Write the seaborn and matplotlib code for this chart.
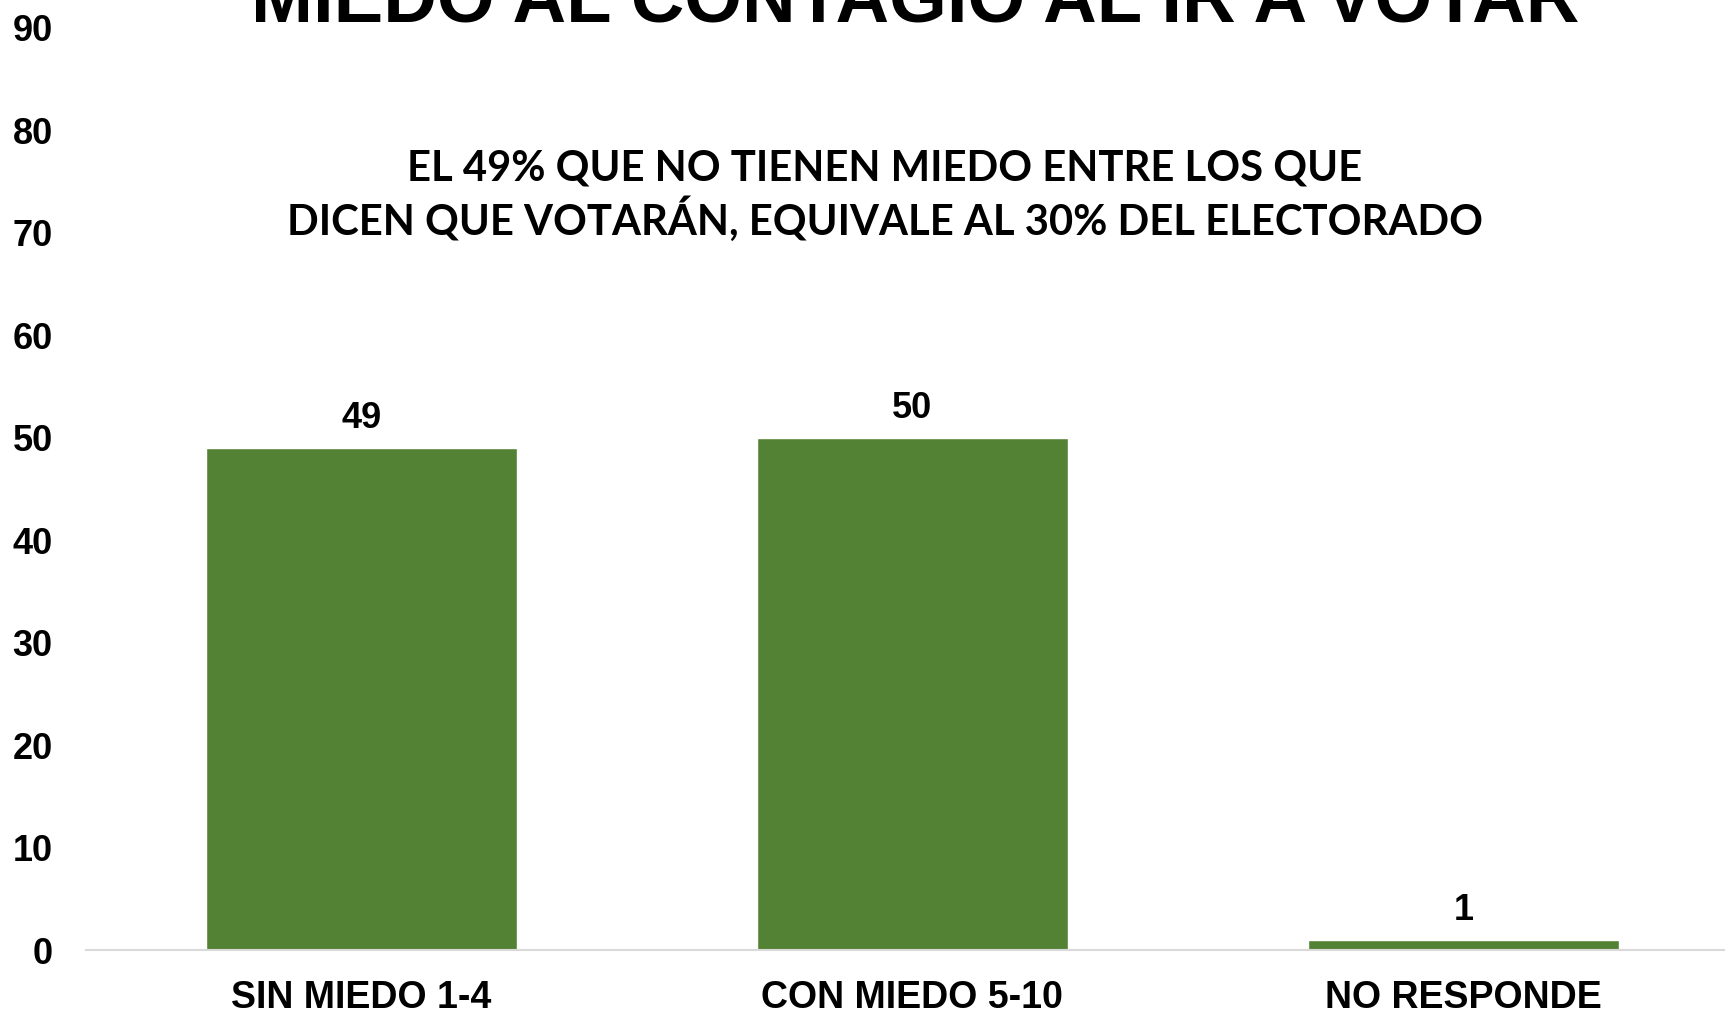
import matplotlib
matplotlib.use("Agg")
import matplotlib.pyplot as plt
import seaborn as sns
import pandas as pd

categories = ["SIN MIEDO 1-4", "CON MIEDO 5-10", "NO RESPONDE"]
values = [49, 50, 1]
yticks = [0, 10, 20, 30, 40, 50, 60, 70, 80, 90]
title = "MIEDO AL CONTAGIO AL IR A VOTAR"
subtitle_lines = ["EL 49% QUE NO TIENEN MIEDO ENTRE LOS QUE",
                  "DICEN QUE VOTARÁN, EQUIVALE AL 30% DEL ELECTORADO"]

sns.set_theme(style="white")
plt.rcParams['font.family'] = ['Liberation Sans', 'DejaVu Sans']

W, H = 1725, 1009
fig = plt.figure(figsize=(W / 100, H / 100), dpi=100)
ax = fig.add_axes([86 / W, 1 - 950 / H, 1 - 86 / W, (950 - 28) / H])

df = pd.DataFrame({"cat": categories, "val": values})
sns.barplot(data=df, x="cat", y="val", color="#548235", saturation=1,
            width=0.564, ax=ax)

ax.set_xlim(-0.5, 2.475)
ax.set_ylim(0, 90)
ax.set_yticks(yticks)
ax.set_yticklabels([str(t) for t in yticks])
ax.set_xlabel("")
ax.set_ylabel("")
for s in ["top", "right", "left"]:
    ax.spines[s].set_visible(False)
ax.spines["bottom"].set_color("#d9d9d9")
ax.spines["bottom"].set_linewidth(1.5)
ax.tick_params(axis="y", length=0, pad=24, labelsize=26)
ax.tick_params(axis="x", length=0, pad=21.5, labelsize=27)
for lab in ax.get_yticklabels() + ax.get_xticklabels():
    lab.set_fontweight("bold")
    lab.set_color("black")

ax.bar_label(ax.containers[0], labels=[str(v) for v in values], padding=8.5,
             fontsize=26, fontweight="bold", color="black")

# title (cut at the top like the reference)
t = fig.text(915 / W, 1 - 22 / H, title, ha="center", va="baseline",
             fontsize=52, fontweight="bold", color="black")
fig.canvas.draw()
r = fig.canvas.get_renderer()
w = t.get_window_extent(r).width
t.set_fontsize(52 * 1329 / w)

s1 = fig.text(885 / W, 1 - 180 / H, subtitle_lines[0], ha="center", va="baseline",
              fontsize=29, fontweight="bold", color="black", family=["Lato", "DejaVu Sans"])
s2 = fig.text(885 / W, 1 - 235 / H, subtitle_lines[1], ha="center", va="baseline",
              fontsize=29, fontweight="bold", color="black", family=["Lato", "DejaVu Sans"])
fig.canvas.draw()
w2 = s2.get_window_extent(r).width
fs = 29 * 1195 / w2
s1.set_fontsize(fs)
s2.set_fontsize(fs)

fig.savefig("out.png", dpi=100, facecolor="white")
